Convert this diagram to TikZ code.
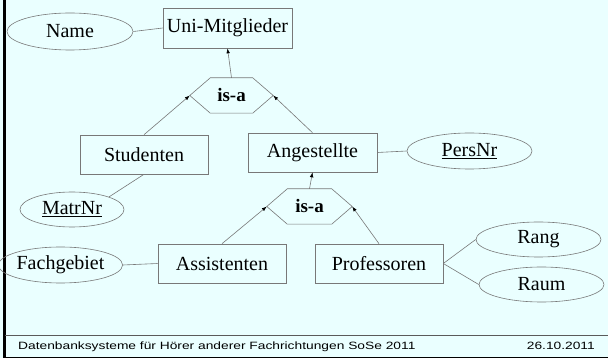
\documentclass[tikz,border=0pt]{standalone}
\usepackage{fontspec}
\usepackage{graphicx}
\setmainfont{Liberation Serif}
\setsansfont{Liberation Sans}
\usetikzlibrary{shapes.geometric,arrows.meta}

\definecolor{slidebg}{RGB}{234,255,255}
\definecolor{linegray}{RGB}{120,120,120}
\definecolor{rulegray}{RGB}{90,90,90}

\tikzset{
  entity/.style={draw=linegray, line width=0.6pt, rectangle, inner sep=0pt,
    minimum width=128pt, minimum height=39pt,
    font=\fontsize{20}{22}\selectfont},
  attr/.style={draw=linegray, line width=0.6pt, ellipse, inner sep=0pt,
    minimum width=125pt, minimum height=35pt,
    font=\fontsize{20}{22}\selectfont},
  isabox/.style={inner sep=0pt, minimum width=83pt, minimum height=35pt,
    font=\fontsize{19}{21}\selectfont\bfseries},
  conn/.style={draw=linegray, line width=0.6pt},
  gen/.style={conn, -{Latex[length=5pt,width=3.6pt,black]}},
  footer/.style={font=\sffamily\fontsize{10.6}{12}\selectfont, inner sep=0pt}
}

\begin{document}
\begin{tikzpicture}[x=1pt, y=-1pt]
  % slide background and frame
  \fill[slidebg] (0,0) rectangle (608,358);
  \useasboundingbox (0,0) rectangle (608,358);
  \fill[black] (3,0) rectangle (5.5,358);
  \fill[black] (3,356.6) rectangle (608,358);
  \draw[rulegray, line width=0.8pt] (5,335) -- (608,335);

  % entities
  \node[entity, minimum width=129pt, minimum height=40pt] (uni) at (227.5,28) {Uni-Mitglieder};
  \node[entity] (stud) at (144,154.5) {Studenten};
  \node[entity, minimum width=129pt] (ang) at (312.5,152.5) {Angestellte};
  \node[entity] (assi) at (222,263.5) {Assistenten};
  \node[entity] (prof) at (379,263.5) {Professoren};

  % attributes
  \node[attr, minimum width=126pt, minimum height=37pt] (name) at (70,31.5) {Name};
  \node[attr, minimum width=104pt] (matr) at (72,209.5) {\underline{MatrNr}};
  \node[attr, minimum height=36pt] (pers) at (469.5,151) {\underline{PersNr}};
  \node[attr, minimum width=113pt, minimum height=36pt] (fach) at (60.5,265) {Fachgebiet};
  \node[attr] (rang) at (538.5,239.5) {Rang};
  \node[attr] (raum) at (541.5,284.5) {Raum};

  % generalisation hexagons
  \node[isabox] (isa1) at (231.5,95.5) {is-a};
  \node[isabox, minimum width=85pt] (isa2) at (309.5,206.5) {is-a};
  \foreach \h in {isa1,isa2}{
    \draw[conn] (\h.west) -- ([xshift=20.5pt]\h.north west) -- ([xshift=-20.5pt]\h.north east)
      -- (\h.east) -- ([xshift=-20.5pt]\h.south east) -- ([xshift=20.5pt]\h.south west) -- cycle;
  }

  % attribute links
  \draw[conn] (name.east) -- (uni.west);
  \draw[conn] (stud.south) -- (matr.north east);
  \draw[conn] (ang.east) -- (pers.west);
  \draw[conn] (fach.east) -- (assi.west);
  \draw[conn] (prof.east) -- (rang.west);
  \draw[conn] (prof.east) -- (raum.west);

  % is-a links
  \draw[gen] (isa1.north) -- (uni.south);
  \draw[gen] (stud.north) -- (isa1.west);
  \draw[gen] (ang.north) -- (isa1.east);
  \draw[gen] (isa2.north) -- (ang.south);
  \draw[gen] (assi.north) -- (isa2.west);
  \draw[gen] (prof.north) -- (isa2.east);

  % footer
  \node[footer, anchor=base west] (ftitle) at (18,349.3)
    {\scalebox{1.3}[1]{Datenbanksysteme für Hörer anderer Fachrichtungen SoSe 2011}};
  \node[footer, anchor=base east] (fdate) at (595,349.3)
    {\scalebox{1.3}[1]{26.10.2011}};
\end{tikzpicture}
\end{document}
